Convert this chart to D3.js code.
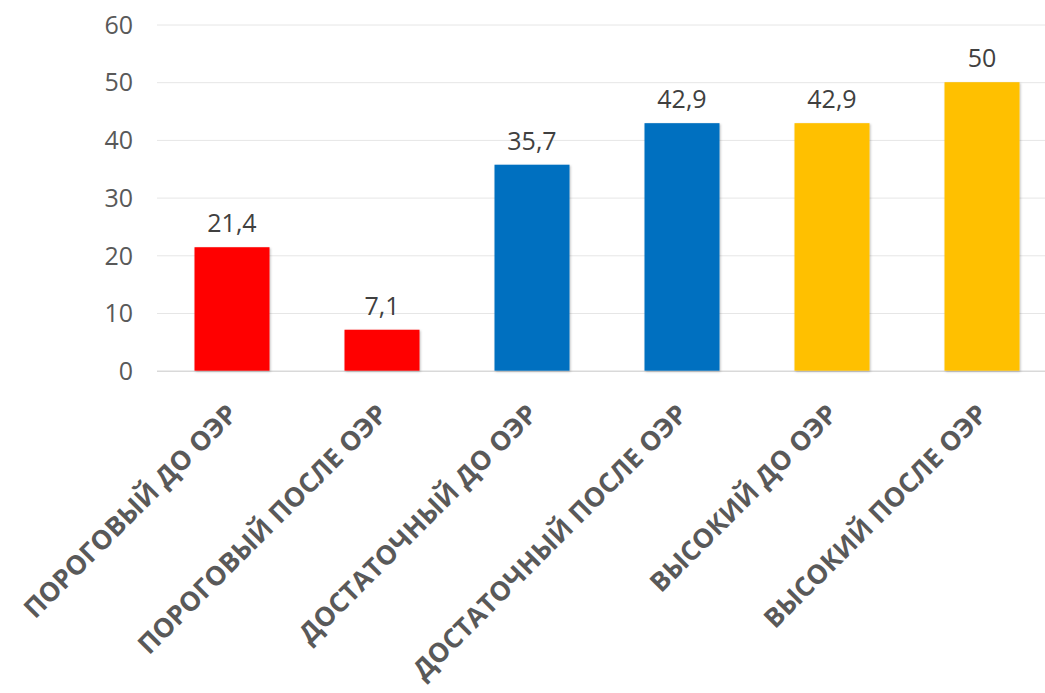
<!DOCTYPE html>
<html><head><meta charset="utf-8">
<script src="https://cdn.jsdelivr.net/npm/d3@7"></script>
<style>body{margin:0;background:#fff;} svg{display:block;}</style>
</head><body>
<script>
const categories = ["ПОРОГОВЫЙ ДО ОЭР","ПОРОГОВЫЙ ПОСЛЕ ОЭР","ДОСТАТОЧНЫЙ ДО ОЭР","ДОСТАТОЧНЫЙ ПОСЛЕ ОЭР","ВЫСОКИЙ ДО ОЭР","ВЫСОКИЙ ПОСЛЕ ОЭР"];
const values = [21.4, 7.1, 35.7, 42.9, 42.9, 50];
const valueLabels = ["21,4","7,1","35,7","42,9","42,9","50"];
const colors = ["#FF0000","#FF0000","#0070C0","#0070C0","#FFC000","#FFC000"];
const yTicks = [0,10,20,30,40,50,60];

const W = 1045, H = 693;
const svg = d3.select("body").append("svg").attr("width", W).attr("height", H);
const defs = svg.append("defs");
const f = defs.append("filter").attr("id","sh").attr("x","-10%").attr("y","-10%").attr("width","130%").attr("height","130%");
f.append("feDropShadow").attr("dx",1).attr("dy",1).attr("stdDeviation",1.2).attr("flood-color","#000").attr("flood-opacity",0.25);

const x = d3.scaleBand().domain(categories).range([157, 1057]).paddingInner(0.5).paddingOuter(0.25);
const y = d3.scaleLinear().domain([0, 60]).range([370.7, 24.5]);

const font = "'Open Sans', 'Noto Sans', sans-serif";

// gridlines
const grid = svg.append("g").call(d3.axisLeft(y).tickValues(yTicks).tickSize(-(1057-157)).tickFormat(""))
  .attr("transform","translate(157,0)");
grid.select(".domain").remove();
grid.selectAll("line").attr("stroke", d => d === 0 ? "#d9d9d9" : "#e6e6e6").attr("stroke-width", d => d===0?1.5:1);

// y labels
const yAx = svg.append("g").attr("transform","translate(133,0)").call(d3.axisLeft(y).tickValues(yTicks).tickSize(0).tickPadding(0));
yAx.select(".domain").remove();
yAx.selectAll("text").attr("font-family", font).attr("font-size", 25).attr("fill", "#595959").attr("dy","0.35em");

// bars
svg.append("g").selectAll("rect").data(values).join("rect")
  .attr("x", (d,i) => x(categories[i]))
  .attr("width", x.bandwidth())
  .attr("y", d => y(d))
  .attr("height", d => y(0) - y(d))
  .attr("fill", (d,i) => colors[i])
  .attr("filter","url(#sh)");

// value labels
svg.append("g").selectAll("text").data(values).join("text")
  .attr("x", (d,i) => x(categories[i]) + x.bandwidth()/2)
  .attr("y", d => y(d) - 15)
  .attr("text-anchor","middle")
  .attr("font-family", font).attr("font-size", 25).attr("fill","#404040")
  .text((d,i) => valueLabels[i]);

// category labels
const xAx = svg.append("g").attr("transform","translate(0,370.7)").call(d3.axisBottom(x).tickSize(0).tickPadding(0));
xAx.select(".domain").remove();
xAx.selectAll("text")
  .attr("font-family", font).attr("font-size", 26.5).attr("font-weight", "bold").attr("fill","#595959")
  .attr("text-anchor","end")
  .attr("dy", null).attr("y", 0)
  .attr("transform","translate(7,45) rotate(-45)");
</script>
</body></html>
